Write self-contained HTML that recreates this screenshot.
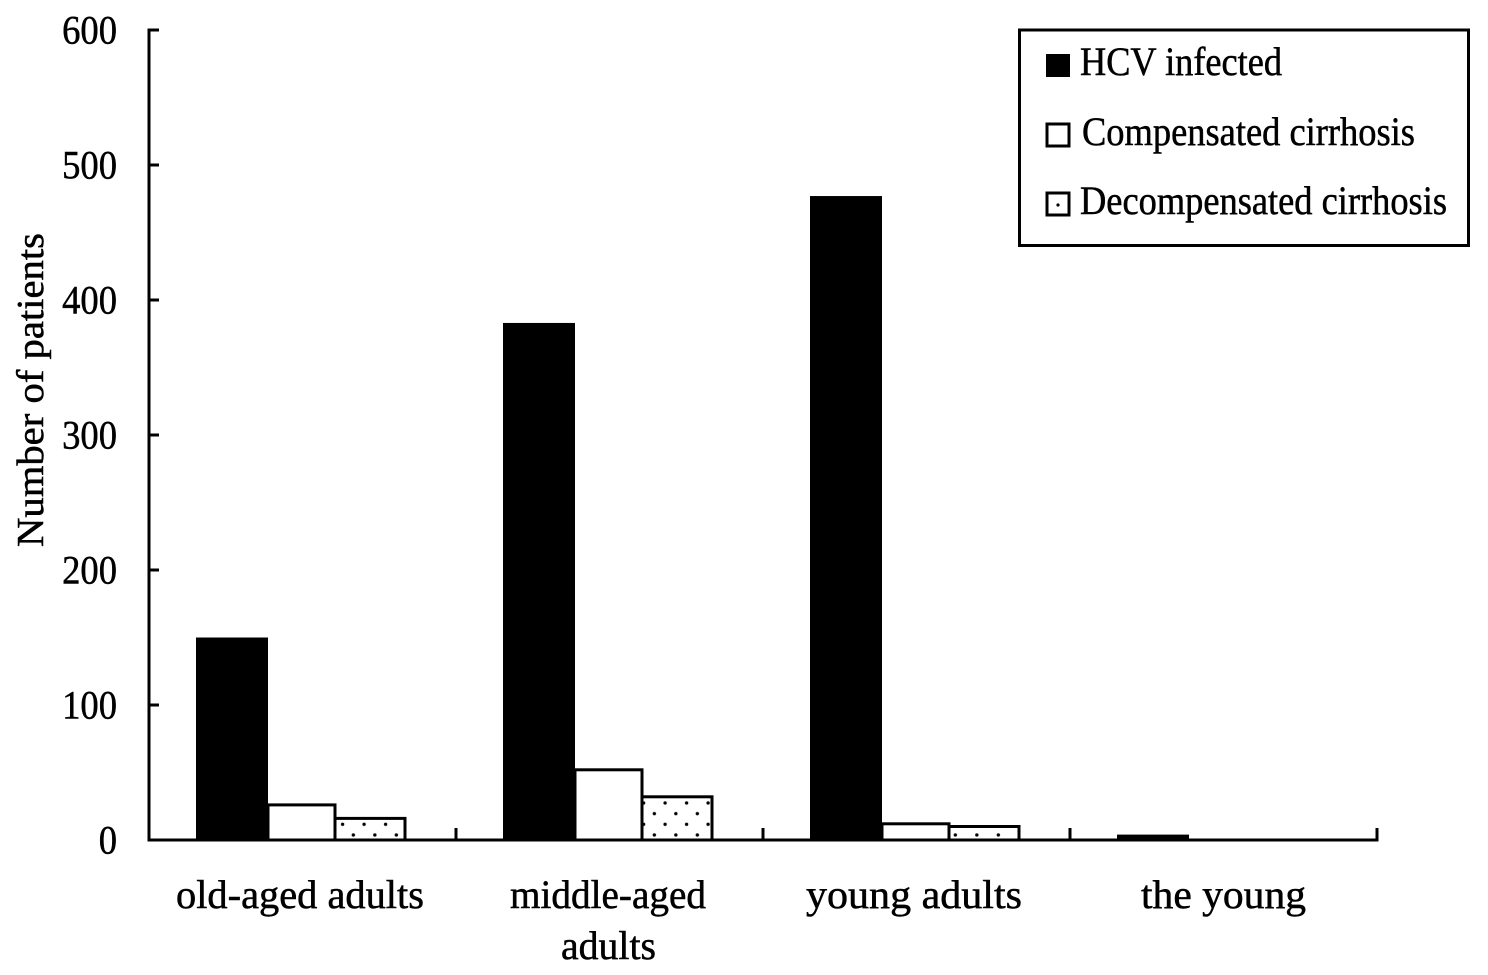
<!DOCTYPE html>
<html>
<head>
<meta charset="utf-8">
<title>Number of patients by age group</title>
<style>
html,body{margin:0;padding:0;background:#fff;width:1488px;height:975px;overflow:hidden}
svg{display:block}
text{font-family:"Liberation Serif",serif;fill:#000;font-size:40px;stroke:#000;stroke-width:.5px}
</style>
</head>
<body>
<svg id="chart" xmlns="http://www.w3.org/2000/svg" width="1488" height="975" viewBox="0 0 1488 975">
  <defs>
    <pattern id="dots" patternUnits="userSpaceOnUse" x="337.6" y="819.3" width="21.5" height="21.34">
      <rect width="21.5" height="21.34" fill="#fff"/>
      <circle cx="5" cy="5" r="1.7" fill="#000"/>
      <circle cx="15.75" cy="15.67" r="1.7" fill="#000"/>
    </pattern>
  </defs>
  <rect width="1488" height="975" fill="#fff"/>
  <g id="bars"></g>
  <g id="axes"></g>
  <text transform="translate(43 547) rotate(-90)" textLength="314" lengthAdjust="spacingAndGlyphs" style="font-size:38px">Number of patients</text>
  <g>
    <rect x="1019.5" y="30" width="449" height="215.5" fill="#fff" stroke="#000" stroke-width="3"/>
    <rect x="1046" y="54" width="24" height="23" fill="#000"/>
    <text x="1080" y="75" textLength="202" lengthAdjust="spacingAndGlyphs">HCV infected</text>
    <rect x="1047" y="124" width="22" height="22" fill="#fff" stroke="#000" stroke-width="3"/>
    <text x="1082" y="145" textLength="333" lengthAdjust="spacingAndGlyphs">Compensated cirrhosis</text>
    <rect x="1047" y="193" width="22" height="22" fill="#fff" stroke="#000" stroke-width="3"/>
    <circle cx="1058" cy="205" r="1.6" fill="#000"/>
    <text x="1080" y="214" textLength="367" lengthAdjust="spacingAndGlyphs">Decompensated cirrhosis</text>
  </g>
</svg>
<script>
const categories = [["old-aged adults"], ["middle-aged", "adults"], ["young adults"], ["the young"]];
const hcvInfected = [150, 383, 477, 4];
const compensatedCirrhosis = [26, 52, 12, 0];
const decompensatedCirrhosis = [16, 32, 10, 0];
const yTicks = [0, 100, 200, 300, 400, 500, 600];

const NS = "http://www.w3.org/2000/svg";
const plotLeft = 149, plotRight = 1377, plotBottom = 840, plotTop = 30, yMax = 600;
const barInset = 47;
const barWidths = [72, 67, 70];
const seriesFills = ["#000", "#fff", "url(#dots)"];
const seriesStrokes = [0, 3, 3];
const seriesKeys = ["hcv-infected", "compensated-cirrhosis", "decompensated-cirrhosis"];
const seriesValues = [hcvInfected, compensatedCirrhosis, decompensatedCirrhosis];
const digitWidth = 18.3;

function yScale(v) { return plotBottom - (v / yMax) * (plotBottom - plotTop); }
function bandWidth() { return (plotRight - plotLeft) / categories.length; }
function xBand(i) { return plotLeft + i * bandWidth(); }
function labelFit(line) {
  if (line === "old-aged adults") return { width: 248, dx: -0.5 };
  if (line === "middle-aged") return { width: 196, dx: 0.5 };
  if (line === "adults") return { width: 95, dx: 1 };
  if (line === "young adults") return { width: 216, dx: -0.5 };
  if (line === "the young") return { width: 165, dx: 2 };
  return { width: 0, dx: 0 };
}
function make(tag, attrs, parent) {
  const n = document.createElementNS(NS, tag);
  for (const k in attrs) n.setAttribute(k, attrs[k]);
  parent.appendChild(n);
  return n;
}

const barsG = document.getElementById("bars");
const axesG = document.getElementById("axes");

categories.forEach(function (cat, i) {
  let x = xBand(i) + barInset;
  seriesValues.forEach(function (vals, s) {
    const y = yScale(vals[i]);
    const r = make("rect", {
      x: x, y: y, width: barWidths[s], height: plotBottom - y,
      fill: seriesFills[s], stroke: "#000", "stroke-width": seriesStrokes[s]
    }, barsG);
    
    
    x += barWidths[s];
  });
});

const yAxis = make("line", { x1: plotLeft, x2: plotLeft, y1: plotTop - 1.5, y2: plotBottom + 1.5, stroke: "#000", "stroke-width": 3 }, axesG);


const xAxis = make("line", { x1: plotLeft, x2: plotRight + 1.5, y1: plotBottom, y2: plotBottom, stroke: "#000", "stroke-width": 3 }, axesG);



yTicks.forEach(function (t) {
  const y = yScale(t);
  const tick = make("line", { x1: plotLeft, x2: plotLeft + 10, y1: y, y2: y, stroke: "#000", "stroke-width": 3 }, axesG);
  
  
  const text = String(t);
  const w = text.length * digitWidth;
  const label = make("text", { x: 117 - w, y: y + 13.5, textLength: w, lengthAdjust: "spacingAndGlyphs" }, axesG);
  
  
  label.textContent = text;
});

for (let i = 1; i <= categories.length; i++) {
  const x = xBand(i);
  const tick = make("line", { x1: x, x2: x, y1: plotBottom - 12, y2: plotBottom, stroke: "#000", "stroke-width": 3 }, axesG);
  
  
}

categories.forEach(function (lines, i) {
  const cx = xBand(i) + bandWidth() / 2 - 2;
  lines.forEach(function (line, l) {
    const fit = labelFit(line);
    const label = make("text", {
      x: cx + fit.dx - fit.width / 2, y: 908 + l * 51,
      textLength: fit.width, lengthAdjust: "spacingAndGlyphs"
    }, axesG);
    
    
    label.textContent = line;
  });
});
</script>
</body>
</html>
